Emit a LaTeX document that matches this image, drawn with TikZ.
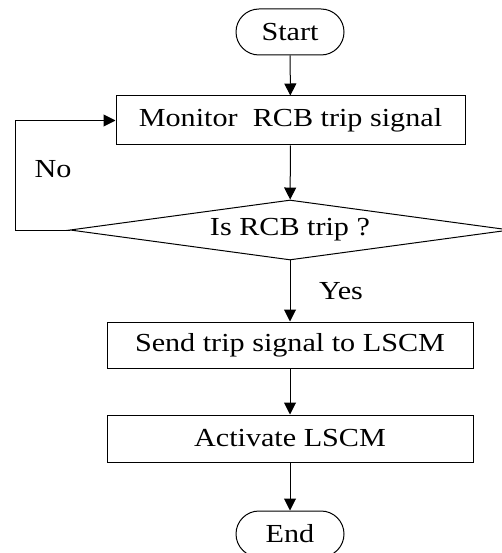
\documentclass[tikz,border=0pt]{standalone}
\usepackage{fontspec}
\setmainfont{Liberation Serif}[FakeStretch=1.16]
\usetikzlibrary{shapes.geometric,arrows.meta}
\begin{document}
\begin{tikzpicture}[x=1pt,y=-1pt,
  every node/.style={font=\fontsize{26}{30}\selectfont, inner sep=0pt},
  terminal/.style={draw, line width=1pt, rectangle, rounded corners=23pt,
    minimum width=108pt, minimum height=46pt},
  process/.style={draw, line width=1pt, rectangle, minimum height=47pt},
  decision/.style={draw, line width=1pt, diamond, aspect=7.3,
    minimum width=440pt, minimum height=60pt},
  flow/.style={line width=1pt, -{Triangle[length=12pt,width=12pt]}},
  label/.style={}]
  \useasboundingbox (0,0) rectangle (502,553);

  \node[terminal] (start) at (290,32) {Start};
  \node[process, minimum width=349pt, minimum height=49pt] (mon) at (290.5,120.5) {Monitor\ \ RCB trip signal};
  \node[decision] (dia) at (290,230) {Is RCB trip ?};
  \node[process, minimum width=366pt, minimum height=46pt] (send) at (290,345) {Send trip signal to LSCM};
  \node[process, minimum width=366pt] (act) at (290,438.5) {Activate LSCM};
  \node[terminal] (end) at (290,534) {End};

  \node[label] (no) at (53,169) {No};
  \node[label] (yes) at (341,291) {Yes};

  \coordinate (loop) at (15,230);

  \draw[flow] (start) -- (mon);
  \draw[flow] (mon) -- (dia);
  \draw[flow] (dia.west) -- (loop) |- (mon.west);
  \draw[flow] (dia) -- (send);
  \draw[flow] (send) -- (act);
  \draw[flow] (act) -- (end);
\end{tikzpicture}
\end{document}
